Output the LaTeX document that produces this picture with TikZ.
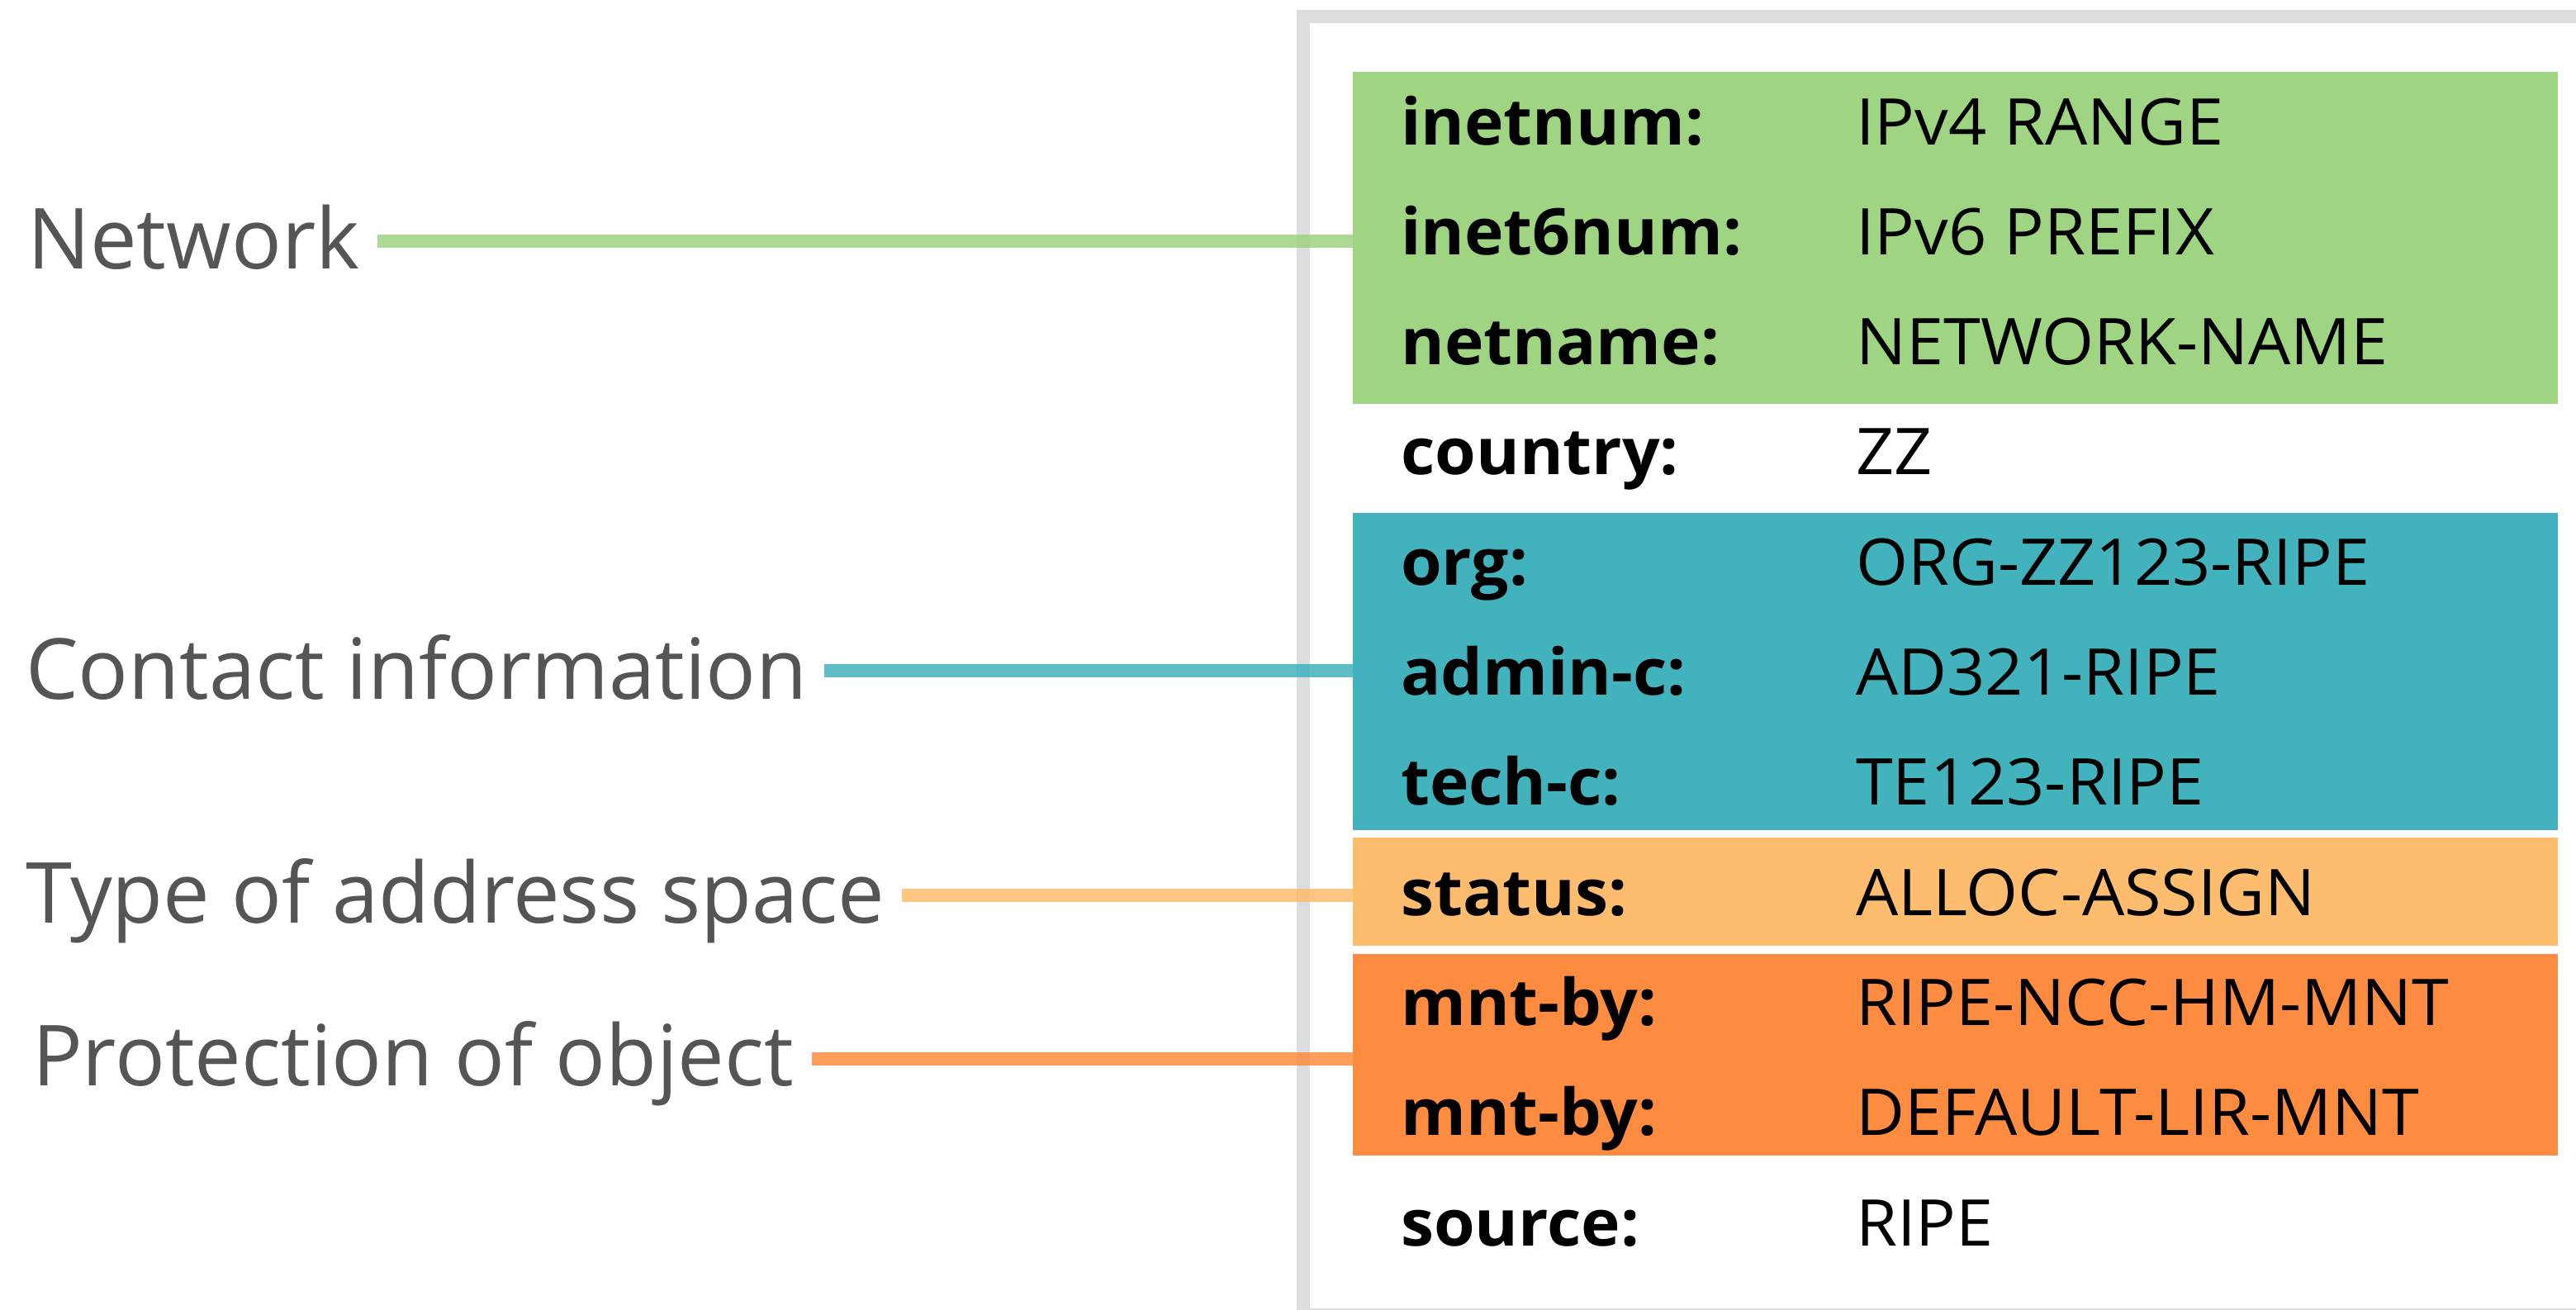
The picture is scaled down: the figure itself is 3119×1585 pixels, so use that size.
\documentclass[tikz,border=0pt]{standalone}
\usepackage{fontspec}
\setmainfont{Open Sans}
\newfontfamily\keyfont[FakeStretch=1.03]{Open Sans}
\newfontfamily\valfont[FakeStretch=1.038]{Open Sans}
\newfontfamily\sidefont[FakeStretch=0.99]{Open Sans}
\usetikzlibrary{calc}
\definecolor{netgreen}{HTML}{9ED482}
\definecolor{conteal}{HTML}{42B2BC}
\definecolor{typeorange}{HTML}{FEBC6E}
\definecolor{protorange}{HTML}{FE8C40}
\definecolor{framegray}{HTML}{DCDDDF}
\definecolor{labelgray}{HTML}{555555}
\tikzset{
  band/.style={draw=none, fill=#1, minimum width=1459pt, inner sep=0pt, anchor=north west, outer sep=0pt},
  keytext/.style={anchor=base west, inner sep=0pt, font=\keyfont\fontsize{78}{94}\selectfont\bfseries},
  valtext/.style={anchor=base west, inner sep=0pt, font=\valfont\fontsize{78}{94}\selectfont},
  sidelabel/.style={anchor=base west, inner sep=0pt, text=labelgray, font=\sidefont\fontsize{102}{122}\selectfont},
  conn/.style={line width=16pt, draw=#1, draw opacity=0.85},
  frameline/.style={line width=16pt, draw=framegray}
}
\begin{document}
\begin{tikzpicture}[x=1pt,y=-1pt]
\useasboundingbox (0,0) rectangle (3119,1585);
\fill[white] (0,0) rectangle (3119,1585);
% frame
\draw[frameline] (1578,20) rectangle (3150,1592);
% bands
\node[band=netgreen, minimum height=402pt] (bnet) at (1638,87) {};
\node[band=conteal, minimum height=384pt] (bcon) at (1638,621) {};
\node[band=typeorange, minimum height=131pt] (btype) at (1638,1014) {};
\node[band=protorange, minimum height=244pt] (bprot) at (1638,1155) {};
% rows
\foreach \k/\v [count=\i from 0] in {inetnum:/IPv4 RANGE, inet6num:/IPv6 PREFIX, netname:/NETWORK-NAME, country:/ZZ, org:/ORG-ZZ123-RIPE, admin-c:/AD321-RIPE, tech-c:/TE123-RIPE, status:/ALLOC-ASSIGN, mnt-by:/RIPE-NCC-HM-MNT, mnt-by:/DEFAULT-LIR-MNT, source:/RIPE}{
  \node[keytext] (k\i) at (1696,175+133.3*\i) {\k};
  \node[valtext] (v\i) at (2247,175+133.3*\i) {\v};
}
% side labels
\node[sidelabel] (lnet) at (33,325) {Network};
\node[sidelabel] (lcon) at (31,846) {Contact information};
\node[sidelabel] (ltype) at (31,1117) {Type of address space};
\node[sidelabel] (lprot) at (39,1314) {Protection of object};
% connectors
\coordinate (snet) at (457,292);
\coordinate (scon) at (998,812);
\coordinate (stype) at (1092,1084);
\coordinate (sprot) at (983,1282);
\draw[conn=netgreen] (snet) -- ($(snet -| bnet.west)+(7,0)$);
\draw[conn=conteal] (scon) -- ($(scon -| bcon.west)+(7,0)$);
\draw[conn=typeorange] (stype) -- ($(stype -| btype.west)+(7,0)$);
\draw[conn=protorange] (sprot) -- ($(sprot -| bprot.west)+(7,0)$);
\end{tikzpicture}
\end{document}
